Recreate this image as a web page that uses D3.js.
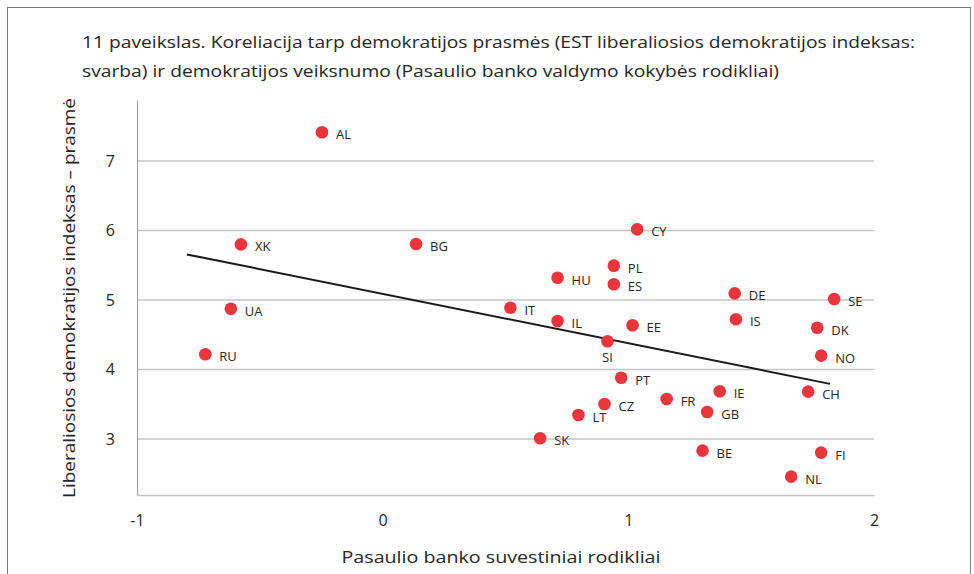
<!DOCTYPE html>
<html>
<head>
<meta charset="utf-8">
<script src="https://cdn.jsdelivr.net/npm/d3@7"></script>
<style>
  body { margin: 0; background: #fff; }
  text { font-family: "Open Sans", "Noto Sans", sans-serif; fill: #262626; }
</style>
</head>
<body>
<div class="canvas"></div>
<script>
// country codes and their values (x = World Bank indicators, y = liberal democracy index - importance)
const countries = ['AL','XK','BG','UA','RU','CY','PL','HU','ES','DE','SE','IT','IL','EE','IS','DK','SI','NO','PT','IE','CH','FR','CZ','GB','LT','SK','BE','FI','NL'];
const wbValues = [-0.247,-0.577,0.136,-0.618,-0.722,1.036,0.941,0.712,0.941,1.433,1.838,0.520,0.712,1.017,1.438,1.769,0.915,1.785,0.971,1.372,1.732,1.156,0.903,1.321,0.797,0.641,1.302,1.785,1.663];
const ldValues = [7.413,5.801,5.806,4.875,4.219,6.017,5.494,5.321,5.226,5.096,5.014,4.889,4.698,4.636,4.722,4.601,4.406,4.199,3.882,3.686,3.681,3.576,3.504,3.388,3.345,3.010,2.832,2.804,2.458];
const labelBelow = ['SI'];

const xTicks = [-1, 0, 1, 2];
const yTicks = [3, 4, 5, 6, 7];
const trendRange = [-0.797, 1.821];

const titleLines = [
  '11 paveikslas. Koreliacija tarp demokratijos prasmės (EST liberaliosios demokratijos indeksas:',
  'svarba) ir demokratijos veiksnumo (Pasaulio banko valdymo kokybės rodikliai)'
];
const xTitle = 'Pasaulio banko suvestiniai rodikliai';
const yTitle = 'Liberaliosios demokratijos indeksas – prasmė';

const width = 974, height = 574;
const margin = {top: 100, right: 100, bottom: 79, left: 137};
const graphWidth = width - margin.left - margin.right;
const graphHeight = height - margin.top - margin.bottom;

const svg = d3.select('.canvas')
  .append('svg')
    .attr('width', width)
    .attr('height', height);

// outer frame
svg.append('rect')
  .attr('x', 7.5).attr('y', 7.5)
  .attr('width', 963).attr('height', 620)
  .attr('fill', 'none')
  .attr('stroke', '#7a7a7a')
  .attr('stroke-width', 1);

// title
svg.selectAll('.title')
  .data(titleLines)
  .enter().append('text')
    .attr('class', 'title')
    .attr('x', 82)
    .attr('y', (d, i) => 48 + i * 29)
    .attr('font-size', 17)
    .attr('textLength', (d, i) => i === 0 ? 833 : 697)
    .attr('lengthAdjust', 'spacingAndGlyphs')
    .text(d => d);

const graph = svg.append('g')
  .attr('transform', `translate(${margin.left}, ${margin.top})`);

const x = d3.scaleLinear()
  .domain([-1, 2])
  .range([0, graphWidth]);

const y = d3.scaleLinear()
  .domain([2.194, 7.878])
  .range([graphHeight, 0]);

// gridlines
graph.append('g')
  .selectAll('line')
  .data(yTicks)
  .enter().append('line')
    .attr('x1', 0).attr('x2', graphWidth)
    .attr('y1', d => y(d)).attr('y2', d => y(d))
    .attr('stroke', '#c4c4c4')
    .attr('stroke-width', 1.3);

// axes
const xAxisGroup = graph.append('g')
  .attr('transform', `translate(0, ${graphHeight})`)
  .call(d3.axisBottom(x).tickValues(xTicks).tickSize(0).tickPadding(20).tickFormat(d => String(d)));

const yAxisGroup = graph.append('g')
  .call(d3.axisLeft(y).tickValues(yTicks).tickSize(0).tickPadding(22).tickFormat(d => String(d)));

xAxisGroup.select('.domain').attr('stroke', '#c4c4c4').attr('stroke-width', 1.3);
yAxisGroup.select('.domain').attr('stroke', '#9a9a9a').attr('stroke-width', 1);
xAxisGroup.selectAll('text').attr('font-size', 16).attr('fill', '#262626')
  .attr('font-family', '"Open Sans", sans-serif');
yAxisGroup.selectAll('text').attr('font-size', 16).attr('fill', '#262626')
  .attr('font-family', '"Open Sans", sans-serif');

// trend line from least squares fit of the points
const n = wbValues.length;
const mx = d3.mean(wbValues), my = d3.mean(ldValues);
let sxy = 0, sxx = 0;
for (let i = 0; i < n; i++) {
  sxy += (wbValues[i] - mx) * (ldValues[i] - my);
  sxx += (wbValues[i] - mx) ** 2;
}
const slope = sxy / sxx;
const intercept = my - slope * mx;

graph.append('line')
  .attr('x1', x(trendRange[0])).attr('y1', y(intercept + slope * trendRange[0]))
  .attr('x2', x(trendRange[1])).attr('y2', y(intercept + slope * trendRange[1]))
  .attr('stroke', '#1a1a1a')
  .attr('stroke-width', 2);

// points
const data = countries.map((c, i) => ({name: c, wb: wbValues[i], ld: ldValues[i]}));

graph.selectAll('circle')
  .data(data)
  .enter().append('circle')
    .attr('cx', d => x(d.wb))
    .attr('cy', d => y(d.ld))
    .attr('r', 6.3)
    .attr('fill', '#ea353c');

graph.selectAll('.lbl')
  .data(data)
  .enter().append('text')
    .attr('class', 'lbl')
    .attr('x', d => labelBelow.includes(d.name) ? x(d.wb) : x(d.wb) + 14)
    .attr('y', d => labelBelow.includes(d.name) ? y(d.ld) + 21 : y(d.ld) + 7)
    .attr('text-anchor', d => labelBelow.includes(d.name) ? 'middle' : 'start')
    .attr('font-size', 13)
    .attr('fill', '#333')
    .text(d => d.name);

// axis titles
svg.append('text')
  .attr('x', 501).attr('y', 563)
  .attr('text-anchor', 'middle')
  .attr('font-size', 17)
  .attr('textLength', 319)
  .attr('lengthAdjust', 'spacingAndGlyphs')
  .text(xTitle);

svg.append('text')
  .attr('transform', 'translate(75, 298) rotate(-90)')
  .attr('text-anchor', 'middle')
  .attr('font-size', 17)
  .attr('textLength', 400)
  .attr('lengthAdjust', 'spacingAndGlyphs')
  .text(yTitle);
</script>
</body>
</html>
